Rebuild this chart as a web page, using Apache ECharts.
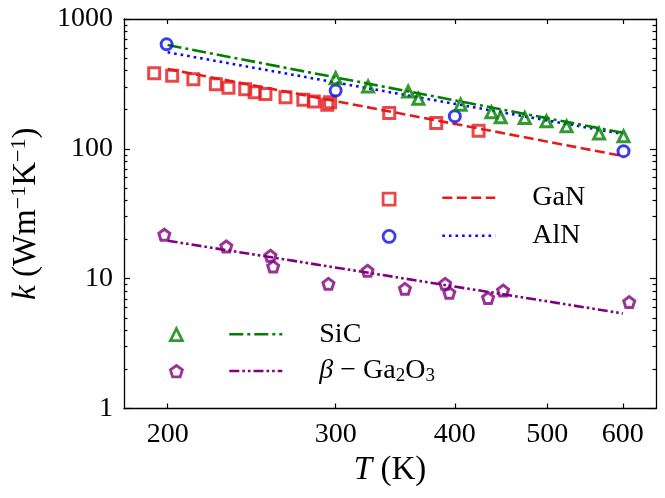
<!DOCTYPE html>
<html>
<head>
<meta charset="utf-8">
<script src="https://cdn.jsdelivr.net/npm/echarts@6/dist/echarts.min.js"></script>
<style>
html, body { margin: 0; padding: 0; background: #fff; }
#chart { width: 665px; height: 498px; }
</style>
</head>
<body>
<div id="chart"></div>
<script>
// measured points (T in K, k in W/mK)
var ganT = [193.6, 202.2, 212.8, 224.7, 231.6, 241.2, 246.7, 253.2, 265.8, 277.5, 284.6, 294, 296, 341.4, 382.4, 423.6];
var ganK = [382, 366, 344, 315, 296, 288, 273, 264, 250, 239, 232, 219, 228, 189, 158, 138];

var alnT = [199.5, 300, 400, 601];
var alnK = [638, 281, 178, 96];

var sicT = [300, 324.4, 357.4, 366.3, 405.6, 436.9, 446.8, 473.5, 499, 523.8, 566.6, 601];
var sicK = [350, 302, 276, 243, 219, 191, 175, 173, 163, 149, 131, 125];

var gaoT = [198.4, 230.4, 256.3, 258, 294.8, 324, 354.6, 390.8, 394.7, 433.4, 449.4, 609.3];
var gaoK = [21.8, 17.7, 15.0, 12.4, 9.12, 11.5, 8.35, 9.12, 7.78, 7.1, 8.1, 6.6];

// fitted lines, end points
var fitT = [200, 600];
var ganFitK = [412, 88];
var alnFitK = [554, 130];
var sicFitK = [630, 133];
var gaoFitK = [19.6, 5.4];

var xTicks = [200, 300, 400, 500, 600];
var yMinorTicks = [2, 3, 4, 5, 6, 7, 8, 9, 20, 30, 40, 50, 60, 70, 80, 90, 200, 300, 400, 500, 600, 700, 800, 900];

var FONT = 'Liberation Serif';
var RED = '#e41a1c', BLUE = '#0a0af0', GREEN = '#008000', PURPLE = '#800080';
var PENTAGON = 'path://M0,-1 L0.951,-0.309 L0.588,0.809 L-0.588,0.809 L-0.951,-0.309 Z';

function zip(xs, ys) {
	var out = [];
	for (var i = 0; i < xs.length; i++) out.push([xs[i], ys[i]]);
	return out;
}

var myChart = echarts.init(document.getElementById('chart'));

function xAxisOf(pos, withLabels) {
	return {
		type: 'log', logBase: 10, min: 180, max: 650, position: pos,
		axisLine: { show: true, lineStyle: { color: '#000', width: 1.3 } },
		axisTick: { show: true, inside: true, length: 5, customValues: xTicks, lineStyle: { color: '#000', width: 1.2 } },
		axisLabel: { show: withLabels, customValues: xTicks, margin: 12, color: '#000', fontFamily: FONT, fontSize: 28 },
		minorTick: { show: false },
		splitLine: { show: false },
		name: withLabels ? '{i|T} (K)' : '',
		nameLocation: 'middle', nameGap: 42,
		nameTextStyle: { color: '#000', fontFamily: FONT, fontSize: 33, rich: { i: { fontStyle: 'italic', fontFamily: FONT, fontSize: 33 } } }
	};
}

function yAxisOf(pos, minor, withLabels) {
	var ax = {
		type: 'log', logBase: 10, min: 1, max: 1000, position: pos,
		axisLine: { show: !minor, lineStyle: { color: '#000', width: 1.3 } },
		axisTick: { show: true, inside: true, length: minor ? 3.5 : 6, lineStyle: { color: '#000', width: 1.2 } },
		axisLabel: {
			show: withLabels, margin: 11, color: '#000', fontFamily: FONT, fontSize: 28,
			formatter: function (v) { return String(Math.round(v)); }
		},
		splitLine: { show: false }
	};
	if (minor) ax.axisTick.customValues = yMinorTicks;
	if (withLabels) {
		ax.name = '{i|k} (Wm{s|−1}K{s|−1})';
		ax.nameLocation = 'middle';
		ax.nameGap = 80;
		ax.nameTextStyle = {
			color: '#000', fontFamily: FONT, fontSize: 33,
			rich: {
				i: { fontStyle: 'italic', fontFamily: FONT, fontSize: 33 },
				s: { fontFamily: FONT, fontSize: 22, verticalAlign: 'bottom', padding: [0, 0, 14, 0] }
			}
		};
	}
	return ax;
}

function fitLine(name, ks, color, dash) {
	return {
		name: name, type: 'line', data: zip(fitT, ks), symbol: 'none', silent: true,
		lineStyle: { color: color, width: 2.6, type: dash }, itemStyle: { color: color }, z: 2
	};
}

function points(name, ts, ks, color, symbol, size) {
	return {
		name: name, type: 'scatter', data: zip(ts, ks), symbol: symbol, symbolSize: size, silent: true,
		itemStyle: { color: 'rgba(255,255,255,0)', borderColor: color, borderWidth: 3 }, z: 3
	};
}

var markerLegend = { orient: 'vertical', padding: 0, itemWidth: 12, itemHeight: 12, selectedMode: false,
	formatter: function () { return ''; }, textStyle: { fontSize: 1 }, itemStyle: { borderWidth: 2.8 } };
var lineLegend = { orient: 'vertical', padding: 0, itemWidth: 53, itemHeight: 14, selectedMode: false,
	itemStyle: { color: 'rgba(0,0,0,0)', borderWidth: 0 }, lineStyle: { width: 2.6 } };

var option = {
	animation: false,
	grid: { left: 124, right: 9, top: 19, bottom: 89.5 },
	xAxis: [xAxisOf('bottom', true), xAxisOf('top', false)],
	yAxis: [yAxisOf('left', false, true), yAxisOf('left', true, false), yAxisOf('right', false, false), yAxisOf('right', true, false)],
	legend: [
		echarts.util.extend({ data: ['GaN data', 'AlN data'], left: 381.7, top: 191.7, itemGap: 22.5 }, markerLegend),
		echarts.util.extend({
			data: ['GaN', 'AlN'], left: 441, top: 182.7, itemGap: 8,
			textStyle: { color: '#000', fontFamily: FONT, fontSize: 28, lineHeight: 30, padding: [0, 0, 0, 32] }
		}, lineLegend),
		echarts.util.extend({ data: ['SiC data', 'Ga2O3 data'], left: 169, top: 327.3, itemGap: 22 }, markerLegend),
		echarts.util.extend({
			data: ['SiC', 'Ga2O3'], left: 228, top: 319.3, itemGap: 6.7,
			formatter: function (name) { return name === 'Ga2O3' ? '{i|β} − Ga{s|2}O{s|3}' : name; },
			textStyle: {
				color: '#000', fontFamily: FONT, fontSize: 28, lineHeight: 30, padding: [0, 0, 0, 32],
				rich: {
					i: { fontStyle: 'italic', fontFamily: FONT, fontSize: 28, lineHeight: 30 },
					s: { fontFamily: FONT, fontSize: 19, lineHeight: 30, verticalAlign: 'bottom' }
				}
			}
		}, lineLegend)
	],
	series: [
		fitLine('GaN', ganFitK, RED, [10, 4.5]),
		fitLine('AlN', alnFitK, BLUE, [2.6, 4]),
		fitLine('SiC', sicFitK, GREEN, [14, 4, 3, 4]),
		fitLine('Ga2O3', gaoFitK, PURPLE, [10, 3, 2.6, 3, 2.6, 3]),
		points('GaN data', ganT, ganK, RED, 'rect', 11),
		points('AlN data', alnT, alnK, BLUE, 'circle', 11),
		points('SiC data', sicT, sicK, GREEN, 'triangle', 11),
		points('Ga2O3 data', gaoT, gaoK, PURPLE, PENTAGON, 11)
	]
};

myChart.setOption(option);
</script>
</body>
</html>
